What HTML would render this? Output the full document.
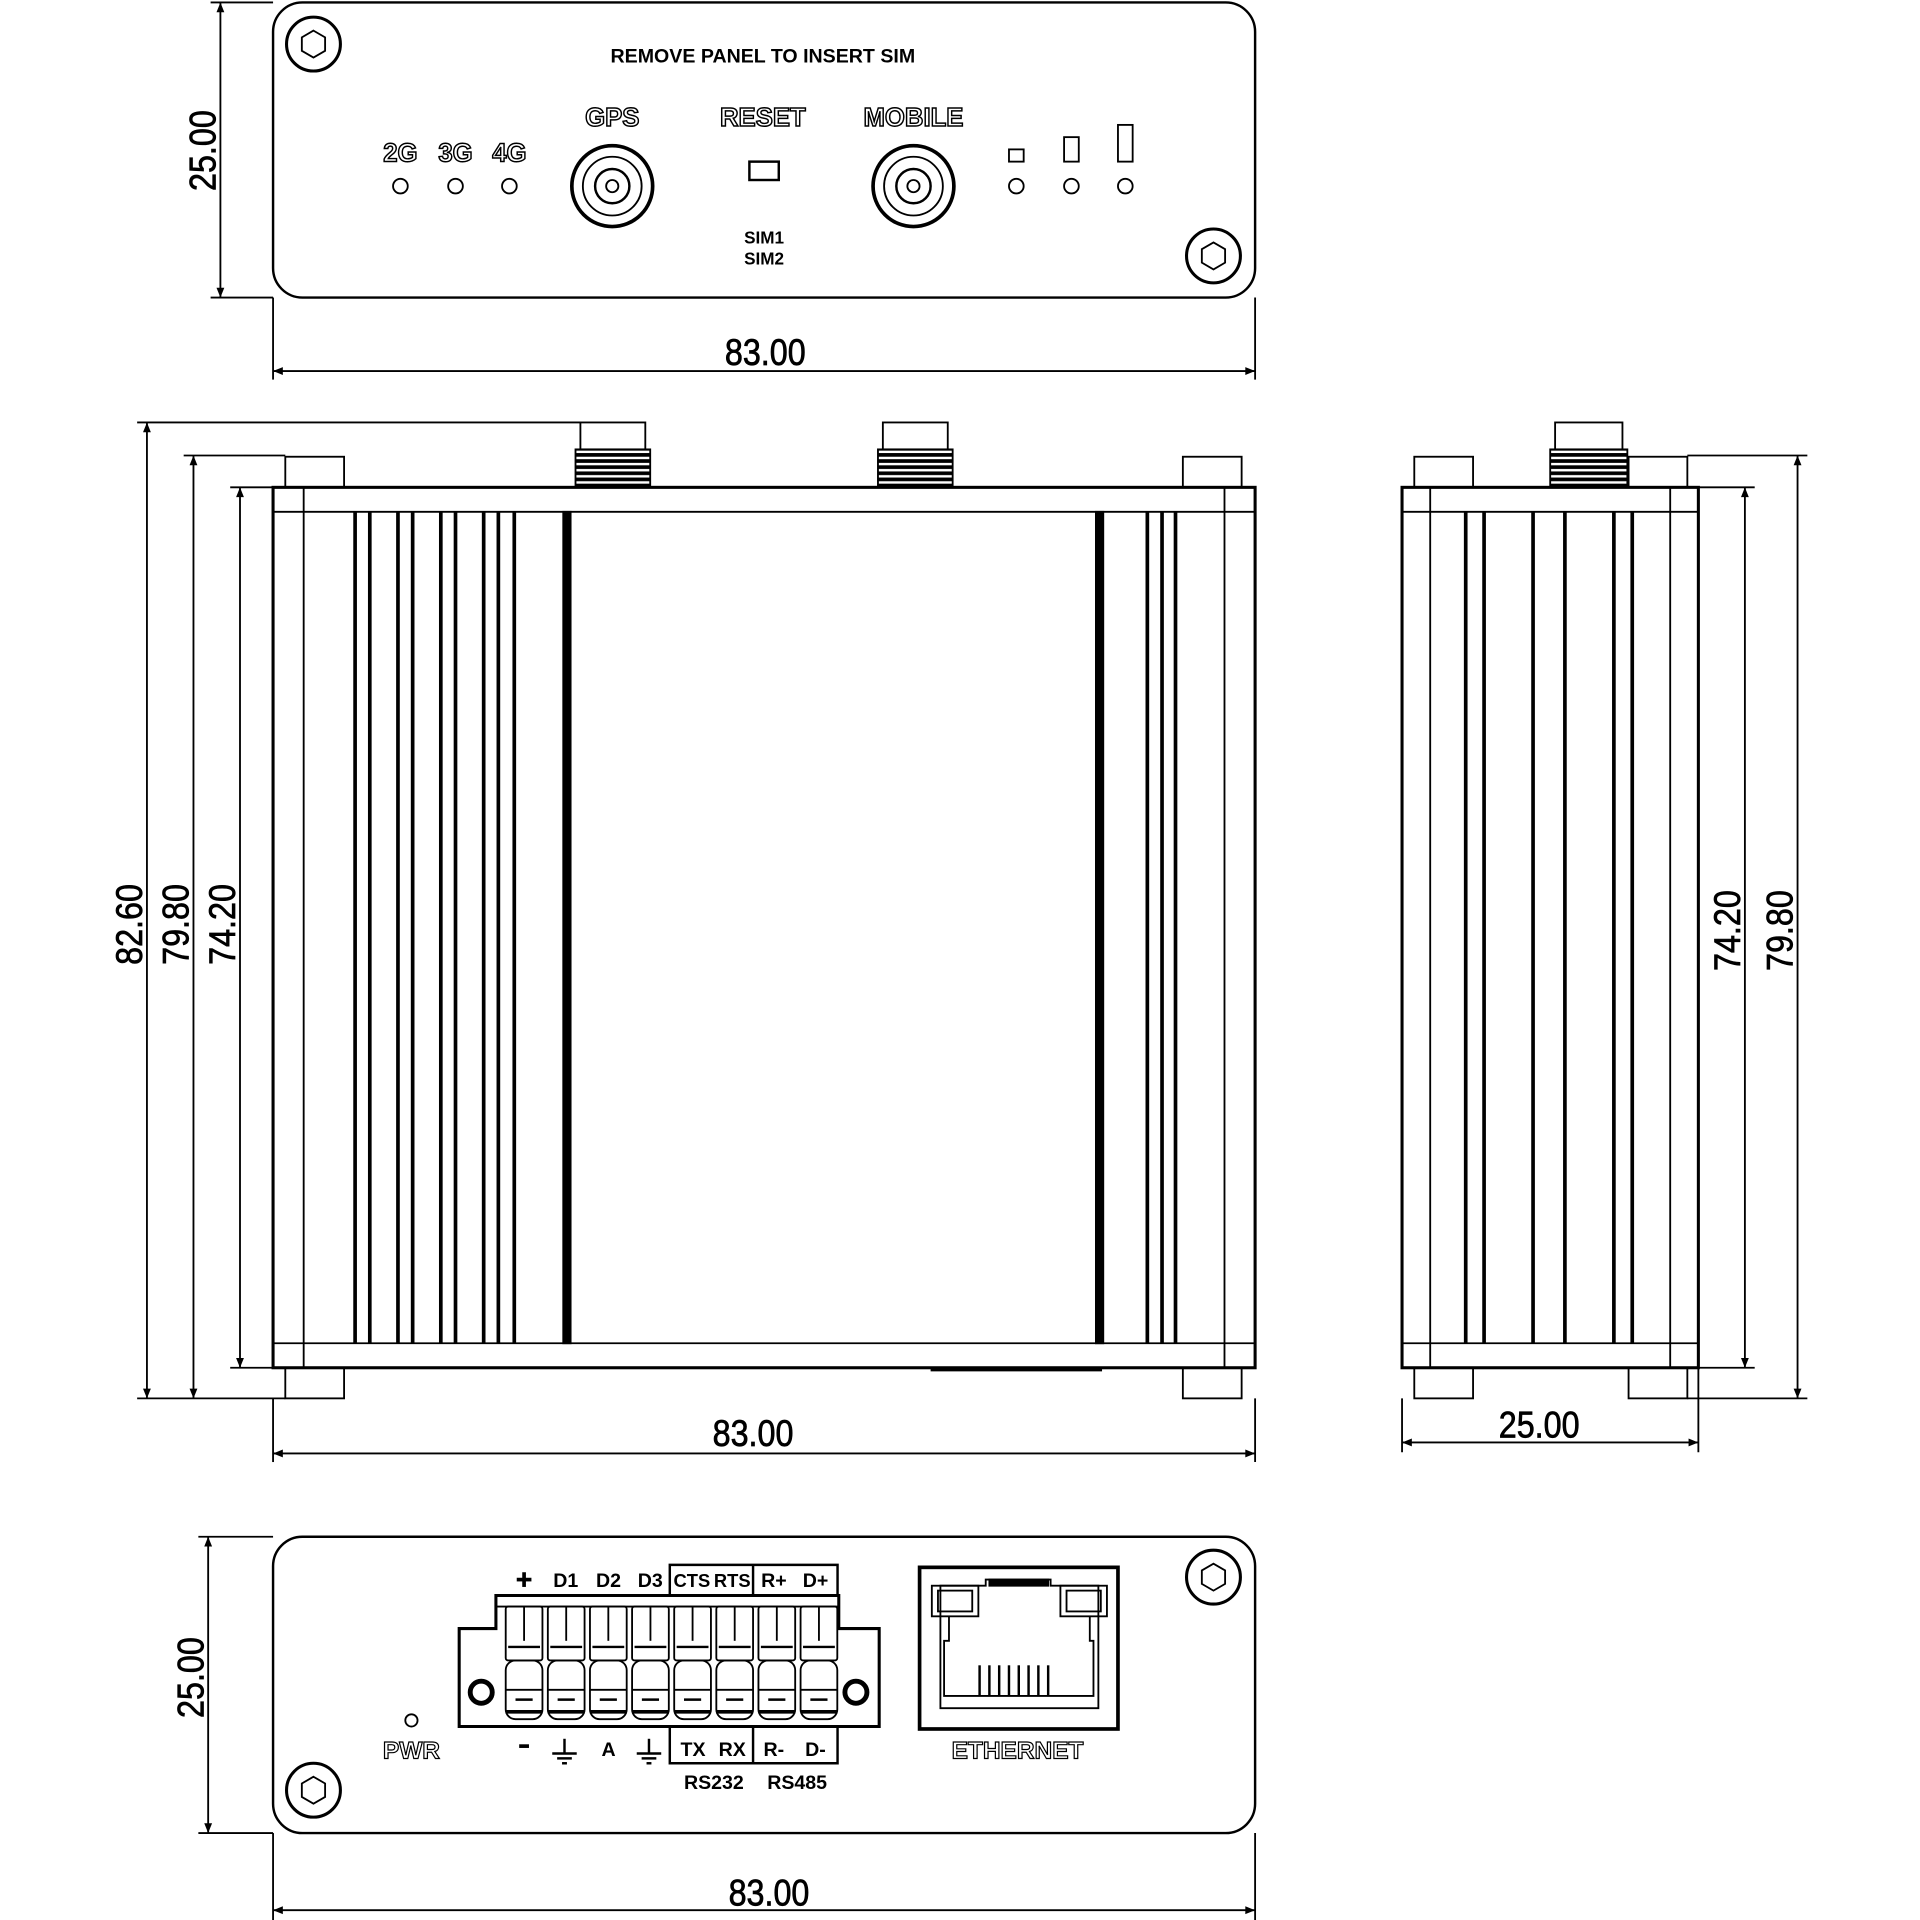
<!DOCTYPE html>
<html><head><style>html,body{margin:0;padding:0;background:#fff}svg{display:block}</style></head>
<body>
<svg width="1920" height="1920" viewBox="0 0 1568 1568" xmlns="http://www.w3.org/2000/svg" font-family="Liberation Sans, sans-serif">
<defs>
<marker id="a" viewBox="0 0 10 10" refX="10" refY="5" markerWidth="12" markerHeight="8" orient="auto-start-reverse" markerUnits="userSpaceOnUse"><path d="M0,1 L10,5 L0,9 z" fill="#000"/></marker>
<pattern id="thr" width="8" height="5" patternUnits="userSpaceOnUse"><rect width="8" height="5" fill="#fff"/><rect width="8" height="3" fill="#000"/></pattern>
</defs>
<g fill="none" stroke="#000" stroke-width="1.5">
<!-- TOP VIEW -->
<rect x="223" y="2" width="802" height="241" rx="24" stroke-width="2"/>
<circle cx="256" cy="36" r="22" stroke-width="2.5"/><polygon points="256,25 265.5,30.5 265.5,41.5 256,47 246.5,41.5 246.5,30.5"/>
<circle cx="991" cy="209" r="22" stroke-width="2.5"/><polygon points="991,198 1000.5,203.5 1000.5,214.5 991,220 981.5,214.5 981.5,203.5"/>
<circle cx="327" cy="152" r="6"/><circle cx="372" cy="152" r="6"/><circle cx="416" cy="152" r="6"/>
<circle cx="830" cy="152" r="6"/><circle cx="875" cy="152" r="6"/><circle cx="919" cy="152" r="6"/>
<circle cx="500" cy="152" r="33" stroke-width="3"/><circle cx="500" cy="152" r="24"/><circle cx="500" cy="152" r="14" stroke-width="2"/><circle cx="500" cy="152" r="5"/>
<circle cx="746" cy="152" r="33" stroke-width="3"/><circle cx="746" cy="152" r="24"/><circle cx="746" cy="152" r="14" stroke-width="2"/><circle cx="746" cy="152" r="5"/>
<rect x="612" y="132" width="24" height="15" stroke-width="2"/>
<rect x="824" y="122" width="12" height="10"/><rect x="869" y="112" width="12" height="20"/><rect x="913" y="102" width="12" height="30"/>
<line x1="180" y1="2" x2="180" y2="243" marker-start="url(#a)" marker-end="url(#a)"/>
<line x1="172" y1="2" x2="223" y2="2"/><line x1="172" y1="243" x2="223" y2="243"/>
<line x1="223" y1="303" x2="1025" y2="303" marker-start="url(#a)" marker-end="url(#a)"/>
<line x1="223" y1="243" x2="223" y2="310"/><line x1="1025" y1="243" x2="1025" y2="310"/>

<!-- MIDDLE VIEW -->
<rect x="233" y="373" width="48" height="25"/><rect x="966" y="373" width="48" height="25"/>
<rect x="233" y="1117" width="48" height="25"/><rect x="966" y="1117" width="48" height="25"/>
<rect x="474" y="345" width="53" height="22"/><rect x="470" y="367" width="61" height="31" fill="url(#thr)"/>
<rect x="721" y="345" width="53" height="22"/><rect x="717" y="367" width="61" height="31" fill="url(#thr)"/>
<rect x="223" y="398" width="802" height="719" stroke-width="2.5"/>
<line x1="223" y1="418" x2="1025" y2="418"/><line x1="223" y1="1097" x2="1025" y2="1097"/>
<line x1="248" y1="398" x2="248" y2="1117"/><line x1="1000" y1="398" x2="1000" y2="1117"/>
<g stroke-width="3">
<line x1="290" y1="418" x2="290" y2="1097"/><line x1="302" y1="418" x2="302" y2="1097"/>
<line x1="325" y1="418" x2="325" y2="1097"/><line x1="337" y1="418" x2="337" y2="1097"/>
<line x1="360" y1="418" x2="360" y2="1097"/><line x1="372" y1="418" x2="372" y2="1097"/>
<line x1="395" y1="418" x2="395" y2="1097"/><line x1="407" y1="418" x2="407" y2="1097"/>
<line x1="420" y1="418" x2="420" y2="1097"/>
<line x1="937" y1="418" x2="937" y2="1097"/><line x1="949" y1="418" x2="949" y2="1097"/><line x1="960" y1="418" x2="960" y2="1097"/>
</g>
<rect x="460" y="418" width="6" height="679" fill="#000"/><rect x="895" y="418" width="6" height="679" fill="#000"/>
<line x1="760" y1="1119" x2="900" y2="1119" stroke-width="2"/>
<line x1="120" y1="345" x2="120" y2="1142" marker-start="url(#a)" marker-end="url(#a)"/>
<line x1="158" y1="372" x2="158" y2="1142" marker-start="url(#a)" marker-end="url(#a)"/>
<line x1="196" y1="398" x2="196" y2="1117" marker-start="url(#a)" marker-end="url(#a)"/>
<line x1="112" y1="345" x2="474" y2="345"/><line x1="150" y1="372" x2="233" y2="372"/><line x1="188" y1="398" x2="223" y2="398"/>
<line x1="112" y1="1142" x2="233" y2="1142"/><line x1="188" y1="1117" x2="223" y2="1117"/>
<line x1="223" y1="1187" x2="1025" y2="1187" marker-start="url(#a)" marker-end="url(#a)"/>
<line x1="223" y1="1142" x2="223" y2="1194"/><line x1="1025" y1="1142" x2="1025" y2="1194"/>

<!-- SIDE VIEW -->
<rect x="1155" y="373" width="48" height="25"/><rect x="1330" y="373" width="48" height="25"/>
<rect x="1155" y="1117" width="48" height="25"/><rect x="1330" y="1117" width="48" height="25"/>
<rect x="1270" y="345" width="55" height="22"/><rect x="1266" y="367" width="63" height="31" fill="url(#thr)"/>
<rect x="1145" y="398" width="242" height="719" stroke-width="2.5"/>
<line x1="1145" y1="418" x2="1387" y2="418"/><line x1="1145" y1="1097" x2="1387" y2="1097"/>
<line x1="1168" y1="398" x2="1168" y2="1117"/><line x1="1364" y1="398" x2="1364" y2="1117"/>
<g stroke-width="3">
<line x1="1197" y1="418" x2="1197" y2="1097"/><line x1="1212" y1="418" x2="1212" y2="1097"/>
<line x1="1252" y1="418" x2="1252" y2="1097"/><line x1="1278" y1="418" x2="1278" y2="1097"/>
<line x1="1318" y1="418" x2="1318" y2="1097"/><line x1="1333" y1="418" x2="1333" y2="1097"/>
</g>
<line x1="1425" y1="398" x2="1425" y2="1117" marker-start="url(#a)" marker-end="url(#a)"/>
<line x1="1468" y1="372" x2="1468" y2="1142" marker-start="url(#a)" marker-end="url(#a)"/>
<line x1="1387" y1="398" x2="1433" y2="398"/><line x1="1387" y1="1117" x2="1433" y2="1117"/>
<line x1="1378" y1="372" x2="1476" y2="372"/><line x1="1378" y1="1142" x2="1476" y2="1142"/>
<line x1="1145" y1="1178" x2="1387" y2="1178" marker-start="url(#a)" marker-end="url(#a)"/>
<line x1="1145" y1="1142" x2="1145" y2="1186"/><line x1="1387" y1="1117" x2="1387" y2="1186"/>

<!-- BOTTOM VIEW -->
<rect x="223" y="1255" width="802" height="242" rx="24" stroke-width="2"/>
<circle cx="991" cy="1288" r="22" stroke-width="2.5"/><polygon points="991,1277 1000.5,1282.5 1000.5,1293.5 991,1299 981.5,1293.5 981.5,1282.5"/>
<circle cx="256" cy="1462" r="22" stroke-width="2.5"/><polygon points="256,1451 265.5,1456.5 265.5,1467.5 256,1473 246.5,1467.5 246.5,1456.5"/>
<circle cx="336" cy="1405" r="5"/>
<path d="M405,1303 H685 V1330 H718 V1410 H375 V1330 H405 Z" stroke-width="2.5"/>
<line x1="405" y1="1312" x2="685" y2="1312"/>
<circle cx="393" cy="1382" r="9" stroke-width="4"/><circle cx="699" cy="1382" r="9" stroke-width="4"/>
<g id="slot">
<rect x="413" y="1312" width="30" height="44" rx="2"/>
<line x1="428" y1="1312" x2="428" y2="1340"/>
<line x1="415" y1="1345" x2="441" y2="1345" stroke-width="2"/>
<rect x="413" y="1356" width="30" height="48" rx="8"/>
<line x1="413" y1="1380" x2="443" y2="1380"/>
<line x1="421" y1="1388" x2="435" y2="1388" stroke-width="2"/>
<line x1="413" y1="1398" x2="443" y2="1398" stroke-width="3"/>
</g>
<use href="#slot" x="34.4"/><use href="#slot" x="68.8"/><use href="#slot" x="103.2"/><use href="#slot" x="137.6"/><use href="#slot" x="172"/><use href="#slot" x="206.4"/><use href="#slot" x="240.8"/>
<g stroke-width="2">
<path d="M547,1303 V1278 H684 V1303"/><line x1="615" y1="1278" x2="615" y2="1303"/>
<path d="M547,1410 V1440 H684 V1410"/><line x1="615" y1="1410" x2="615" y2="1440"/>
<line x1="451" y1="1432" x2="471" y2="1432"/><line x1="455" y1="1436" x2="467" y2="1436"/><line x1="459" y1="1440" x2="463" y2="1440"/><line x1="461" y1="1420" x2="461" y2="1432"/>
<line x1="520" y1="1432" x2="540" y2="1432"/><line x1="524" y1="1436" x2="536" y2="1436"/><line x1="528" y1="1440" x2="532" y2="1440"/><line x1="530" y1="1420" x2="530" y2="1432"/>
<line x1="424" y1="1426" x2="432" y2="1426" stroke-width="3"/>
<line x1="422" y1="1290" x2="434" y2="1290" stroke-width="3"/><line x1="428" y1="1284" x2="428" y2="1296" stroke-width="3"/>
</g>
<rect x="751" y="1280" width="162" height="132" stroke-width="3"/>
<path d="M768,1295 H805 V1290 H858 V1295 H897 V1395 H768 Z"/>
<rect x="761" y="1295" width="38" height="25"/><rect x="866" y="1295" width="38" height="25"/>
<rect x="766" y="1299" width="28" height="17"/><rect x="871" y="1299" width="28" height="17"/>
<rect x="808" y="1290" width="48" height="5" fill="#000"/>
<path d="M775,1320 V1340 H771 V1385 H893 V1340 H890 V1320"/>
<g stroke-width="2"><line x1="800" y1="1360" x2="800" y2="1385"/><line x1="808" y1="1360" x2="808" y2="1385"/><line x1="816" y1="1360" x2="816" y2="1385"/><line x1="824" y1="1360" x2="824" y2="1385"/><line x1="832" y1="1360" x2="832" y2="1385"/><line x1="840" y1="1360" x2="840" y2="1385"/><line x1="848" y1="1360" x2="848" y2="1385"/><line x1="856" y1="1360" x2="856" y2="1385"/></g>
<line x1="170" y1="1255" x2="170" y2="1497" marker-start="url(#a)" marker-end="url(#a)"/>
<line x1="162" y1="1255" x2="223" y2="1255"/><line x1="162" y1="1497" x2="223" y2="1497"/>
<line x1="223" y1="1560" x2="1025" y2="1560" marker-start="url(#a)" marker-end="url(#a)"/>
<line x1="223" y1="1497" x2="223" y2="1568"/><line x1="1025" y1="1497" x2="1025" y2="1568"/>
</g>

<g fill="#000" text-anchor="middle" font-weight="bold">
<text x="623" y="51" font-size="16">REMOVE PANEL TO INSERT SIM</text>
<g font-size="21" fill="#fff" stroke="#000" stroke-width="1.2">
<text x="327" y="132">2G</text><text x="372" y="132">3G</text><text x="416" y="132">4G</text>
<text x="500" y="103">GPS</text><text x="623" y="103">RESET</text><text x="746" y="103">MOBILE</text>
</g>
<text x="624" y="199" font-size="14">SIM1</text><text x="624" y="216" font-size="14">SIM2</text>
<g font-size="16">
<text x="462" y="1296">D1</text><text x="497" y="1296">D2</text><text x="531" y="1296">D3</text>
<text x="565" y="1296" font-size="15">CTS</text><text x="598" y="1296" font-size="15">RTS</text><text x="632" y="1296">R+</text><text x="666" y="1296">D+</text>
<text x="497" y="1434">A</text><text x="566" y="1434">TX</text><text x="598" y="1434">RX</text><text x="632" y="1434">R-</text><text x="666" y="1434">D-</text>
<text x="583" y="1461">RS232</text><text x="651" y="1461">RS485</text>
</g>
<g font-size="20" fill="#fff" stroke="#000" stroke-width="1"><text x="336" y="1436">PWR</text><text x="831" y="1436">ETHERNET</text></g>
</g>
<g fill="#000" text-anchor="middle" font-size="30" stroke="#000" stroke-width="0.6">
<text x="625" y="298" textLength="66" lengthAdjust="spacingAndGlyphs">83.00</text>
<text x="615" y="1181" textLength="66" lengthAdjust="spacingAndGlyphs">83.00</text>
<text x="1257" y="1174" textLength="66" lengthAdjust="spacingAndGlyphs">25.00</text>
<text x="628" y="1556" textLength="66" lengthAdjust="spacingAndGlyphs">83.00</text>
<text transform="translate(176,123) rotate(-90)" textLength="66" lengthAdjust="spacingAndGlyphs">25.00</text>
<text transform="translate(166,1370) rotate(-90)" textLength="66" lengthAdjust="spacingAndGlyphs">25.00</text>
<text transform="translate(116,755) rotate(-90)" textLength="66" lengthAdjust="spacingAndGlyphs">82.60</text>
<text transform="translate(154,755) rotate(-90)" textLength="66" lengthAdjust="spacingAndGlyphs">79.80</text>
<text transform="translate(192,755) rotate(-90)" textLength="66" lengthAdjust="spacingAndGlyphs">74.20</text>
<text transform="translate(1421,760) rotate(-90)" textLength="66" lengthAdjust="spacingAndGlyphs">74.20</text>
<text transform="translate(1464,760) rotate(-90)" textLength="66" lengthAdjust="spacingAndGlyphs">79.80</text>
</g>
</svg>
</body></html>
